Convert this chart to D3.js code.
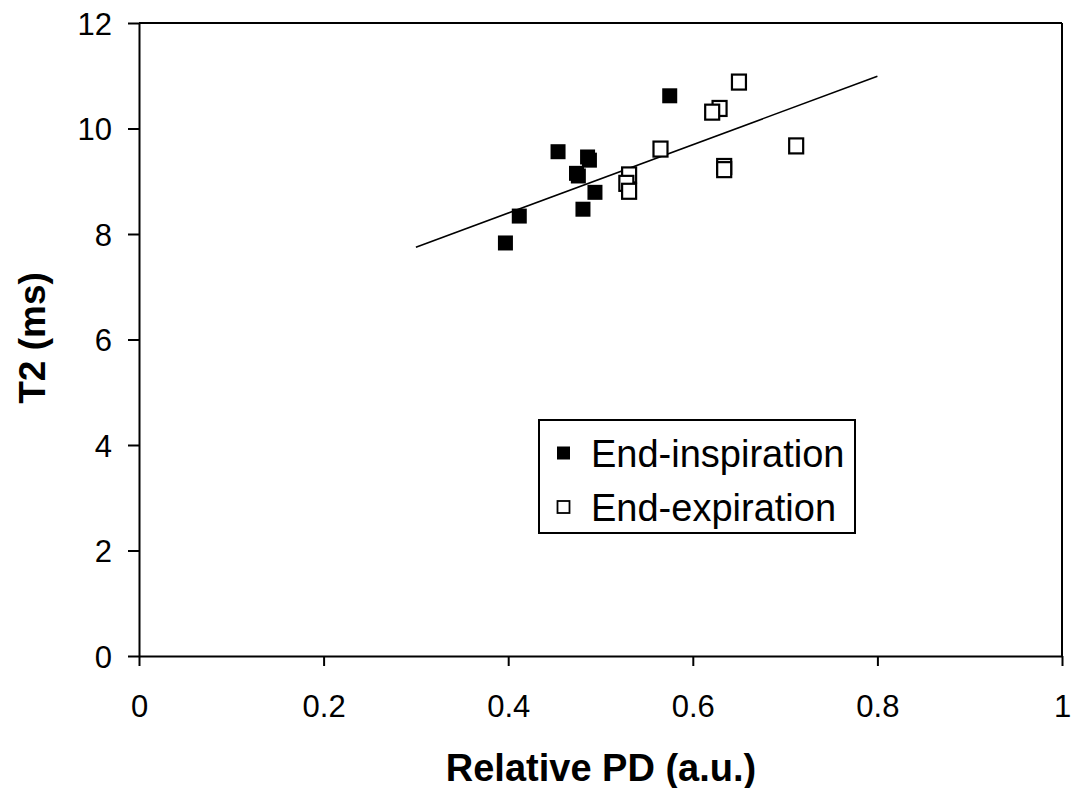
<!DOCTYPE html>
<html><head><meta charset="utf-8">
<script src="https://cdn.jsdelivr.net/npm/d3@7"></script>
<style>body{margin:0;background:#fff}svg{display:block}text{font-family:Arial,"Liberation Sans",sans-serif}</style>
</head><body>
<script>
const inspX = [0.397, 0.412, 0.454, 0.486, 0.488, 0.474, 0.476, 0.494, 0.481, 0.575];
const inspY = [7.83, 8.34, 9.56, 9.46, 9.40, 9.15, 9.10, 8.79, 8.47, 10.62];
const expX = [0.650, 0.629, 0.621, 0.565, 0.531, 0.528, 0.531, 0.634, 0.634, 0.712];
const expY = [10.88, 10.38, 10.31, 9.61, 9.12, 8.96, 8.81, 9.28, 9.22, 9.67];
const trendX = [0.30, 0.80];
const trendY = [7.75, 10.99];
const xTicks = [0, 0.2, 0.4, 0.6, 0.8, 1];
const yTicks = [0, 2, 4, 6, 8, 10, 12];
const legendLabels = ["End-inspiration", "End-expiration"];

const W = 1076, H = 788;
const svg = d3.select("body").append("svg").attr("width", W).attr("height", H);
const x = d3.scaleLinear().domain([0, 1]).range([139, 1062]);
const y = d3.scaleLinear().domain([0, 12]).range([656, 23]);

// frame top/right
svg.append("line").attr("x1", x(0)).attr("x2", x(1)).attr("y1", y(12)).attr("y2", y(12)).attr("stroke", "#000").attr("stroke-width", 2);
svg.append("line").attr("x1", x(1)).attr("x2", x(1)).attr("y1", y(12)).attr("y2", y(0)).attr("stroke", "#000").attr("stroke-width", 2);

const xAxis = svg.append("g").attr("transform", `translate(0,${y(0)})`)
  .call(d3.axisBottom(x).tickValues(xTicks).tickSize(10).tickSizeOuter(0).tickFormat(d => d3.format("")(d)));
const yAxis = svg.append("g").attr("transform", `translate(${x(0)},0)`)
  .call(d3.axisLeft(y).tickValues(yTicks).tickSize(11).tickSizeOuter(0));
[xAxis, yAxis].forEach(g => {
  g.select(".domain").attr("stroke", "#000").attr("stroke-width", 2);
  g.selectAll(".tick line").attr("stroke", "#000").attr("stroke-width", 2);
  g.selectAll("text").attr("font-size", 31).attr("fill", "#000").attr("font-family", "Arial, 'Liberation Sans', sans-serif");
});
xAxis.selectAll("text").attr("dy", null).attr("y", 61);
yAxis.selectAll("text").attr("x", -27).attr("dy", "0.36em");

// trendline
const tdata = trendX.map((v, i) => [v, trendY[i]]);
svg.append("path").datum(tdata)
  .attr("d", d3.line().x(d => x(d[0])).y(d => y(d[1])))
  .attr("stroke", "#000").attr("stroke-width", 1.6).attr("fill", "none");

// points
const sz = 15;
const insp = inspX.map((v, i) => [v, inspY[i]]);
const exp = expX.map((v, i) => [v, expY[i]]);
svg.append("g").selectAll("rect").data(exp).join("rect")
  .attr("x", d => x(d[0]) - 7).attr("y", d => y(d[1]) - 7.5)
  .attr("width", 14).attr("height", 15)
  .attr("fill", "#fff").attr("stroke", "#000").attr("stroke-width", 2.2);
svg.append("g").selectAll("rect").data(insp).join("rect")
  .attr("x", d => x(d[0]) - sz / 2).attr("y", d => y(d[1]) - sz / 2)
  .attr("width", sz).attr("height", sz).attr("fill", "#000");

// legend
const lg = svg.append("g");
lg.append("rect").attr("x", 539).attr("y", 420).attr("width", 316).attr("height", 113)
  .attr("fill", "#fff").attr("stroke", "#000").attr("stroke-width", 2);
legendLabels.forEach((lab, i) => {
  const cy = 453 + i * 54;
  if (i === 0) lg.append("rect").attr("x", 557).attr("y", cy - 6.5).attr("width", 13).attr("height", 13).attr("fill", "#000");
  else lg.append("rect").attr("x", 557.5).attr("y", cy - 6).attr("width", 12).attr("height", 12).attr("fill", "#fff").attr("stroke", "#000").attr("stroke-width", 1.8);
  lg.append("text").attr("x", 591).attr("y", cy).attr("dy", "0.36em").attr("font-size", 38).attr("fill", "#000").text(lab);
});

// axis titles
svg.append("text").attr("x", 601).attr("y", 781).attr("text-anchor", "middle")
  .attr("font-size", 38).attr("font-weight", "bold").text("Relative PD (a.u.)");
svg.append("text").attr("transform", "translate(45,338) rotate(-90)").attr("text-anchor", "middle")
  .attr("font-size", 37).attr("font-weight", "bold").text("T2 (ms)");
</script>
</body></html>
